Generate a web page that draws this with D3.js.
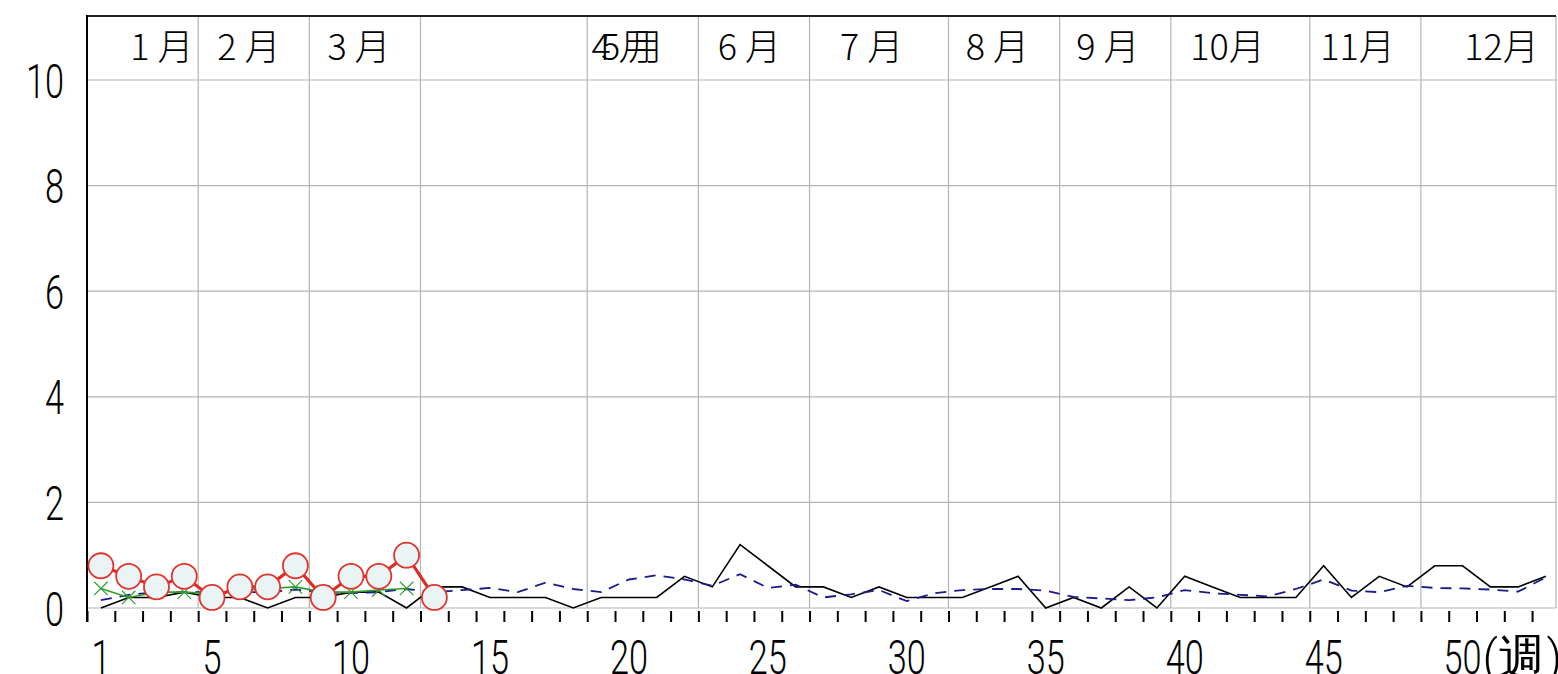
<!DOCTYPE html>
<html>
<head>
<meta charset="utf-8">
<script src="https://cdn.jsdelivr.net/npm/d3@7"></script>
<style>
  html, body { margin:0; padding:0; background:#fff; }
  svg { display:block; }
</style>
</head>
<body>
<div id="chart"></div>
<script>
// weekly values (week 1..53)
var blackLine = [0.0,0.2,0.2,0.3,0.2,0.2,0.0,0.2,0.2,0.3,0.3,0.0,0.4,0.4,0.2,0.2,0.2,0.0,0.2,0.2,
                 0.2,0.6,0.4,1.2,0.8,0.4,0.4,0.2,0.4,0.2,0.2,0.2,0.4,0.6,0.0,0.2,0.0,0.4,0.0,0.6,
                 0.4,0.2,0.2,0.2,0.8,0.2,0.6,0.4,0.8,0.8,0.4,0.4,0.6];
var blueDash  = [0.15,0.25,0.3,0.3,0.3,0.3,0.3,0.35,0.3,0.28,0.3,0.36,0.3,0.34,0.38,0.3,0.48,0.36,0.3,0.54,
                 0.62,0.54,0.42,0.64,0.38,0.44,0.2,0.26,0.34,0.13,0.28,0.34,0.36,0.36,0.33,0.21,0.18,0.15,0.2,0.34,
                 0.28,0.25,0.22,0.36,0.54,0.33,0.3,0.42,0.38,0.37,0.35,0.31,0.58];
var greenLine = [0.37,0.2,0.3,0.3,0.27,0.33,0.37,0.4,0.3,0.3,0.34,0.37];
var redLine   = [0.8,0.6,0.4,0.6,0.2,0.4,0.4,0.8,0.2,0.6,0.6,1.0,0.2];

var yTicks = [0,2,4,6,8,10];
var xLabelWeeks = [1,5,10,15,20,25,30,35,40,45,50];
var monthBounds = [4,8,12,18,22,26,31,35,39,44,48];          // tick index of month grid lines
var monthNames  = ["1 月","2 月","3 月","4 月","5 月","6 月","7 月","8 月","9 月","10月","11月","12月"];
var monthPos    = [1.56,4.69,8.65,18.15,18.5,22.7,27.1,31.62,35.6,39.7,44.38,49.56];

var W = 1558, H = 674;
var pLeft = 87, pTop = 16, pRight = 1556, pBase = 608;

var svg = d3.select("#chart").append("svg").attr("width", W).attr("height", H);

var x = d3.scaleLinear().domain([0, 53]).range([pLeft, pLeft + 53*27.79]);
var y = d3.scaleLinear().domain([0, 10]).range([pBase, 80]);

function wx(i){ return x(i + 0.5); }   // i = 0-based week

// grid
svg.append("g")
  .selectAll("line").data(yTicks).enter().append("line")
    .attr("x1", pLeft).attr("x2", pRight)
    .attr("y1", function(d){ return y(d); }).attr("y2", function(d){ return y(d); })
    .attr("stroke", "#b4b4b4").attr("stroke-width", 1.2);

svg.append("g")
  .selectAll("line").data(monthBounds).enter().append("line")
    .attr("x1", function(d){ return x(d); }).attr("x2", function(d){ return x(d); })
    .attr("y1", pTop).attr("y2", pBase)
    .attr("stroke", "#b4b4b4").attr("stroke-width", 1.2);

// frame
svg.append("line").attr("x1", pRight).attr("x2", pRight).attr("y1", pTop).attr("y2", pBase)
  .attr("stroke", "#b4b4b4").attr("stroke-width", 1.2);
svg.append("line").attr("x1", pLeft).attr("x2", pRight).attr("y1", pTop).attr("y2", pTop)
  .attr("stroke", "#222").attr("stroke-width", 2);
svg.append("line").attr("x1", pLeft).attr("x2", pLeft).attr("y1", pTop - 1).attr("y2", 622)
  .attr("stroke", "#000").attr("stroke-width", 2);

// week ticks
var xAxis = svg.append("g")
  .attr("transform", "translate(0,611)")
  .call(d3.axisBottom(x).tickValues(d3.range(0, 53)).tickSizeInner(11).tickSizeOuter(0).tickFormat(""));
xAxis.select(".domain").remove();
xAxis.selectAll("line").attr("stroke", "#000").attr("stroke-width", 2);

// number labels (tall narrow font)
function narrowText(g, tx, ty, str, anchor, sx){
  g.append("text")
    .attr("transform", "translate(" + tx + "," + ty + ") scale(" + (sx || 0.7) + ",1)")
    .attr("text-anchor", anchor)
    .attr("font-family", "Roboto, 'Liberation Sans', sans-serif")
    .attr("font-weight", 300)
    .attr("font-size", 49)
    .attr("fill", "#000")
    .text(str);
}
var yl = svg.append("g");
yTicks.forEach(function(d){ narrowText(yl, 64, y(d) + 17.5, d, "end"); });

var xl = svg.append("g");
xLabelWeeks.forEach(function(d){
  narrowText(xl, wx(d - 1), 674, d, "middle");
});
narrowText(xl, wx(49) + 20, 674, "(週)", "start", 0.98);

// month labels
svg.append("g").selectAll("text").data(monthNames).enter().append("text")
  .attr("x", function(d, i){ return x(monthPos[i]); })
  .attr("y", 60)
  .attr("font-family", "'Noto Sans CJK JP', sans-serif")
  .attr("font-weight", 300)
  .attr("font-size", 36)
  .attr("fill", "#000")
  .text(function(d){ return d; });

// lines
var line = d3.line().x(function(d, i){ return wx(i); }).y(function(d){ return y(d); });

svg.append("path").datum(blackLine).attr("d", line)
  .attr("fill", "none").attr("stroke", "#000").attr("stroke-width", 1.6);

svg.append("path").datum(blueDash).attr("d", line)
  .attr("fill", "none").attr("stroke", "#1a1a8c").attr("stroke-width", 1.8)
  .attr("stroke-dasharray", "11,8");

svg.append("path").datum(greenLine).attr("d", line)
  .attr("fill", "none").attr("stroke", "#2f9e2f").attr("stroke-width", 1.6);
var cross = d3.symbol().type(d3.symbolX).size(120);
svg.append("g").selectAll("path").data(greenLine).enter().append("path")
  .attr("transform", function(d, i){ return "translate(" + wx(i) + "," + y(d) + ")"; })
  .attr("d", cross).attr("fill", "#2f9e2f").attr("stroke", "#2f9e2f").attr("stroke-width", 1.2);

svg.append("path").datum(redLine).attr("d", line)
  .attr("fill", "none").attr("stroke", "#e02a24").attr("stroke-width", 3.2);
svg.append("g").selectAll("circle").data(redLine).enter().append("circle")
  .attr("cx", function(d, i){ return wx(i); })
  .attr("cy", function(d){ return y(d); })
  .attr("r", 12.5)
  .attr("fill", "#eaf4f4")
  .attr("stroke", "#e0342c").attr("stroke-width", 1.8);
</script>
</body>
</html>
